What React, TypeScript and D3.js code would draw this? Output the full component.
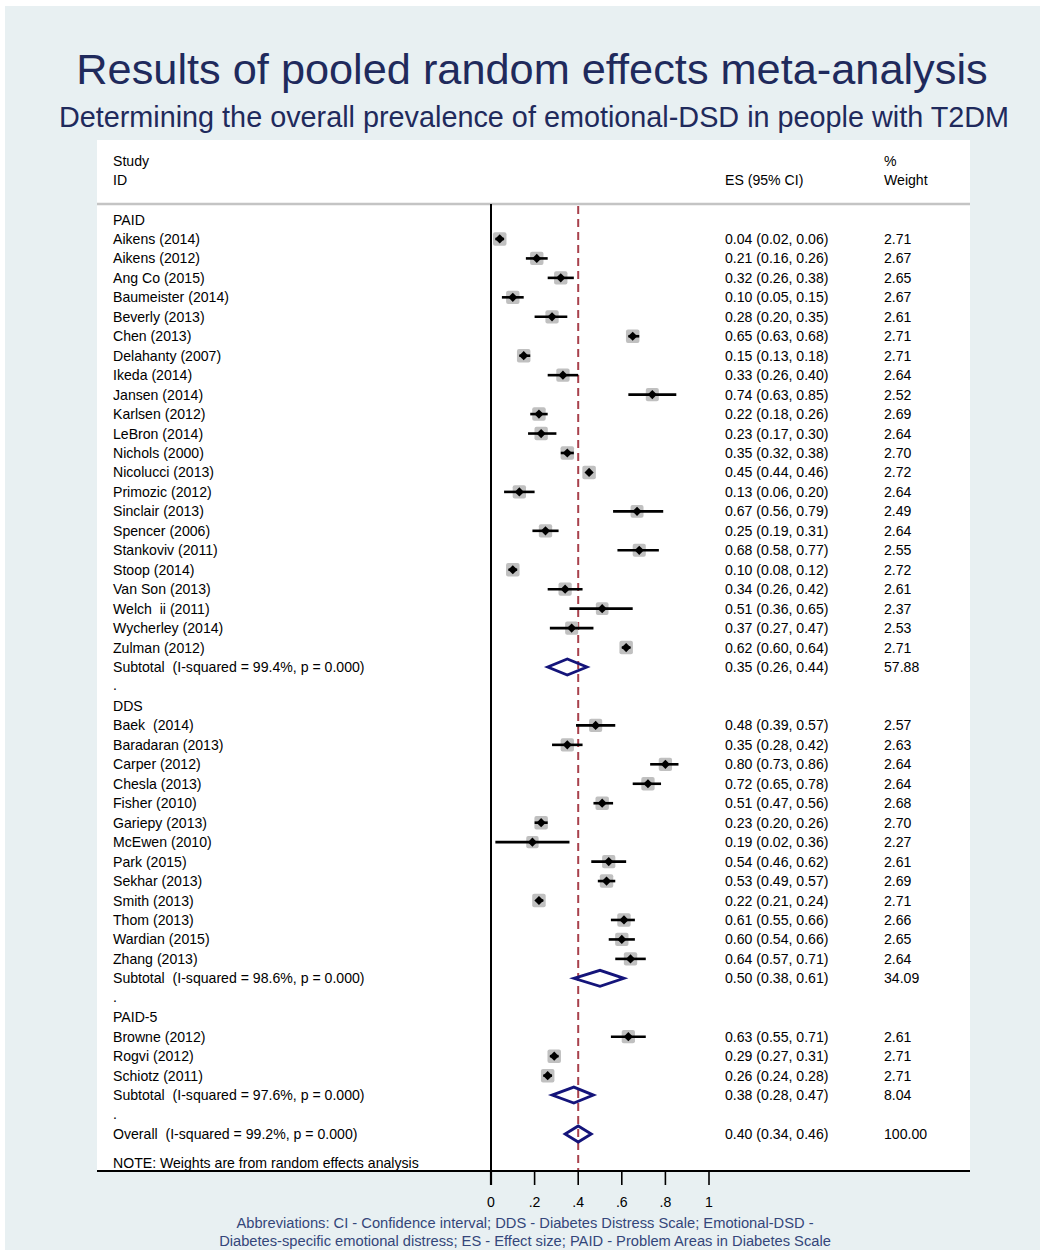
import React from 'react';
import * as d3 from 'd3';

// [study, ES, lower CI, upper CI, % weight]
type Row = [string, number, number, number, number];

const groupNames = ['PAID', 'DDS', 'PAID-5'];

const paidStudies: Row[] = [
  ['Aikens (2014)', 0.04, 0.02, 0.06, 2.71],
  ['Aikens (2012)', 0.21, 0.16, 0.26, 2.67],
  ['Ang Co (2015)', 0.32, 0.26, 0.38, 2.65],
  ['Baumeister (2014)', 0.1, 0.05, 0.15, 2.67],
  ['Beverly (2013)', 0.28, 0.2, 0.35, 2.61],
  ['Chen (2013)', 0.65, 0.63, 0.68, 2.71],
  ['Delahanty (2007)', 0.15, 0.13, 0.18, 2.71],
  ['Ikeda (2014)', 0.33, 0.26, 0.4, 2.64],
  ['Jansen (2014)', 0.74, 0.63, 0.85, 2.52],
  ['Karlsen (2012)', 0.22, 0.18, 0.26, 2.69],
  ['LeBron (2014)', 0.23, 0.17, 0.3, 2.64],
  ['Nichols (2000)', 0.35, 0.32, 0.38, 2.7],
  ['Nicolucci (2013)', 0.45, 0.44, 0.46, 2.72],
  ['Primozic (2012)', 0.13, 0.06, 0.2, 2.64],
  ['Sinclair (2013)', 0.67, 0.56, 0.79, 2.49],
  ['Spencer (2006)', 0.25, 0.19, 0.31, 2.64],
  ['Stankoviv (2011)', 0.68, 0.58, 0.77, 2.55],
  ['Stoop (2014)', 0.1, 0.08, 0.12, 2.72],
  ['Van Son (2013)', 0.34, 0.26, 0.42, 2.61],
  ['Welch  ii (2011)', 0.51, 0.36, 0.65, 2.37],
  ['Wycherley (2014)', 0.37, 0.27, 0.47, 2.53],
  ['Zulman (2012)', 0.62, 0.6, 0.64, 2.71],
];

const ddsStudies: Row[] = [
  ['Baek  (2014)', 0.48, 0.39, 0.57, 2.57],
  ['Baradaran (2013)', 0.35, 0.28, 0.42, 2.63],
  ['Carper (2012)', 0.8, 0.73, 0.86, 2.64],
  ['Chesla (2013)', 0.72, 0.65, 0.78, 2.64],
  ['Fisher (2010)', 0.51, 0.47, 0.56, 2.68],
  ['Gariepy (2013)', 0.23, 0.2, 0.26, 2.7],
  ['McEwen (2010)', 0.19, 0.02, 0.36, 2.27],
  ['Park (2015)', 0.54, 0.46, 0.62, 2.61],
  ['Sekhar (2013)', 0.53, 0.49, 0.57, 2.69],
  ['Smith (2013)', 0.22, 0.21, 0.24, 2.71],
  ['Thom (2013)', 0.61, 0.55, 0.66, 2.66],
  ['Wardian (2015)', 0.6, 0.54, 0.66, 2.65],
  ['Zhang (2013)', 0.64, 0.57, 0.71, 2.64],
];

const paid5Studies: Row[] = [
  ['Browne (2012)', 0.63, 0.55, 0.71, 2.61],
  ['Rogvi (2012)', 0.29, 0.27, 0.31, 2.71],
  ['Schiotz (2011)', 0.26, 0.24, 0.28, 2.71],
];

const subtotals: Row[] = [
  ['Subtotal  (I-squared = 99.4%, p = 0.000)', 0.35, 0.26, 0.44, 57.88],
  ['Subtotal  (I-squared = 98.6%, p = 0.000)', 0.5, 0.38, 0.61, 34.09],
  ['Subtotal  (I-squared = 97.6%, p = 0.000)', 0.38, 0.28, 0.47, 8.04],
];

const overall: Row = ['Overall  (I-squared = 99.2%, p = 0.000)', 0.4, 0.34, 0.46, 100.0];

const xTicks = [0, 0.2, 0.4, 0.6, 0.8, 1];

const title = 'Results of pooled random effects meta-analysis';
const subtitle = 'Determining the overall prevalence of emotional-DSD in people with T2DM';
const footnote = [
  'Abbreviations: CI - Confidence interval; DDS - Diabetes Distress Scale; Emotional-DSD -',
  'Diabetes-specific emotional distress; ES - Effect size; PAID - Problem Areas in Diabetes Scale',
];

type Line =
  | { kind: 'group'; label: string }
  | { kind: 'study' | 'subtotal' | 'overall'; row: Row }
  | { kind: 'dot' };

const W = 1040;
const H = 1250;
const FONT = '"Liberation Sans", Arial, Helvetica, sans-serif';
const NAVY = '#1f2a5c';
const FS = 14.1;

export default function App() {
  const groups = [paidStudies, ddsStudies, paid5Studies];
  const lines: Line[] = [];
  groups.forEach((g, i) => {
    lines.push({ kind: 'group', label: groupNames[i] });
    g.forEach((r) => lines.push({ kind: 'study', row: r }));
    lines.push({ kind: 'subtotal', row: subtotals[i] });
    lines.push({ kind: 'dot' });
  });
  lines.push({ kind: 'overall', row: overall });

  const panel = { left: 97, right: 970, top: 140, bottom: 1171 };
  const x = d3.scaleLinear().domain([0, 1]).range([491, 709]);
  const y = d3.scaleLinear().domain([0, lines.length - 1]).range([219.5, 1134]);
  const boxSide = d3.scaleSqrt().domain([0, 2.71]).range([0, 13.5]);
  const fmt = d3.format('.2f');
  const tickFmt = (d: number) => (d === 0 || d === 1 ? String(d) : d3.format('.1f')(d).replace(/^0/, ''));
  const esText = (r: Row) => `${fmt(r[1])} (${fmt(r[2])}, ${fmt(r[3])})`;
  const textX = 113;
  const esX = 725;
  const wX = 884;
  const headerLine = 204;

  const diamond = (r: Row, cy: number) => {
    const h = 8;
    return `M${x(r[2])},${cy} L${x(r[1])},${cy - h} L${x(r[3])},${cy} L${x(r[1])},${cy + h} Z`;
  };

  return (
    <svg
      width={W}
      height={H}
      style={{ position: 'absolute', left: 0, top: 0, fontFamily: FONT }}
    >
      <rect x={0} y={0} width={W} height={H} fill="#ffffff" />
      <rect x={5} y={6} width={W - 5} height={H - 6} fill="#e8f0f2" />

      <text x={532} y={84} textAnchor="middle" fontSize={43.3} fill={NAVY}>
        {title}
      </text>
      <text x={534} y={127} textAnchor="middle" fontSize={28.8} fill={NAVY}>
        {subtitle}
      </text>

      <rect
        x={panel.left}
        y={panel.top}
        width={panel.right - panel.left}
        height={panel.bottom - panel.top}
        fill="#ffffff"
      />

      {/* headers */}
      <g fontSize={FS} fill="#000">
        <text x={textX} y={166}>Study</text>
        <text x={textX} y={185}>ID</text>
        <text x={esX} y={185}>ES (95% CI)</text>
        <text x={wX} y={166}>%</text>
        <text x={wX} y={185}>Weight</text>
      </g>
      <line x1={panel.left} x2={panel.right} y1={headerLine} y2={headerLine} stroke="#c4c4c4" strokeWidth={2.5} />

      {/* zero line and overall line */}
      <line x1={x(0)} x2={x(0)} y1={headerLine} y2={panel.bottom} stroke="#000" strokeWidth={2} />
      <line
        x1={x(overall[1])}
        x2={x(overall[1])}
        y1={headerLine + 2}
        y2={panel.bottom}
        stroke="#a8414c"
        strokeWidth={2}
        strokeDasharray="8,5"
      />

      {lines.map((ln, i) => {
        const cy = y(i);
        if (ln.kind === 'group') {
          return (
            <text key={i} x={textX} y={cy + 5} fontSize={FS} fill="#000">
              {ln.label}
            </text>
          );
        }
        if (ln.kind === 'dot') {
          return (
            <text key={i} x={textX} y={cy + 4} fontSize={FS} fill="#000">
              .
            </text>
          );
        }
        const r = ln.row;
        const labels = (
          <g fontSize={FS} fill="#000">
            <text x={textX} y={cy + 5} xmlSpace="preserve">{r[0]}</text>
            <text x={esX} y={cy + 5}>{esText(r)}</text>
            <text x={wX} y={cy + 5}>{fmt(r[4])}</text>
          </g>
        );
        if (ln.kind === 'study') {
          const s = boxSide(r[4]);
          const cx = x(r[1]);
          const d = 4.6;
          return (
            <g key={i}>
              <rect x={cx - s / 2} y={cy - s / 2} width={s} height={s} rx={2} fill="#c0c0c0" />
              <line x1={x(r[2])} x2={x(r[3])} y1={cy} y2={cy} stroke="#000" strokeWidth={2.6} />
              <path d={`M${cx - d},${cy} L${cx},${cy - d} L${cx + d},${cy} L${cx},${cy + d} Z`} fill="#000" />
              {labels}
            </g>
          );
        }
        return (
          <g key={i}>
            <path d={diamond(r, cy)} fill="none" stroke="#14147a" strokeWidth={2.8} strokeLinejoin="miter" />
            {labels}
          </g>
        );
      })}

      <text x={textX} y={1168} fontSize={FS} fill="#000">
        NOTE: Weights are from random effects analysis
      </text>

      {/* x axis */}
      <line x1={panel.left} x2={panel.right} y1={panel.bottom} y2={panel.bottom} stroke="#000" strokeWidth={2} />
      {xTicks.map((t) => (
        <g key={t}>
          <line x1={x(t)} x2={x(t)} y1={panel.bottom} y2={1185} stroke="#000" strokeWidth={t === 0 ? 2.2 : 1.6} />
          <text x={x(t)} y={1207} textAnchor="middle" fontSize={FS} fill="#000">
            {tickFmt(t)}
          </text>
        </g>
      ))}

      {footnote.map((f, i) => (
        <text key={i} x={525} y={1228 + i * 17.5} textAnchor="middle" fontSize={14.7} fill="#34467a">
          {f}
        </text>
      ))}
    </svg>
  );
}
